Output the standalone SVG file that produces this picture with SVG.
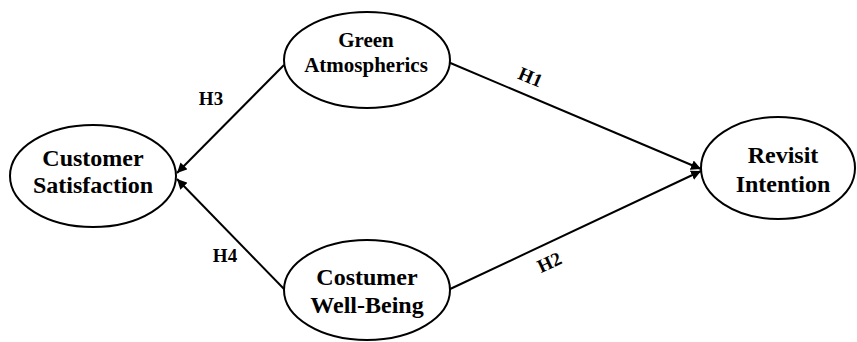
<svg xmlns="http://www.w3.org/2000/svg" width="857" height="342" viewBox="0 0 857 342">
<defs>
<style>
.node ellipse{fill:#fff;stroke:#000;stroke-width:2}
.t{font-family:"Liberation Serif","Times New Roman",serif;font-weight:bold;fill:#000;text-anchor:middle}
.big{font-size:24px}
.small{font-size:21px}
.lab{font-size:19px}
.edge{stroke:#000;stroke-width:2;fill:none;marker-end:url(#ah)}
</style>
<marker id="ah" viewBox="0 0 10 10" refX="10" refY="5" markerWidth="5" markerHeight="5" orient="auto" markerUnits="strokeWidth">
<path d="M0,0 L10,5 L0,10 z" fill="#000"/>
</marker>
</defs>
<rect width="857" height="342" fill="#fff"/>
<g id="connectors">
<line class="edge" x1="448" y1="62" x2="701" y2="169"/>
<line class="edge" x1="448" y1="290" x2="701" y2="171"/>
<line class="edge" x1="284" y1="65" x2="177" y2="173"/>
<line class="edge" x1="285" y1="290" x2="177" y2="179"/>
<text class="t lab" x="211" y="105">H3</text>
<text class="t lab" x="225" y="262">H4</text>
<text class="t lab" transform="translate(528,83) rotate(23)">H1</text>
<text class="t lab" transform="translate(552,268) rotate(-25)">H2</text>
</g>
<g id="customer-satisfaction" class="node">
<ellipse cx="93" cy="176" rx="83" ry="51"/>
<text class="t big" x="93" y="166">Customer</text>
<text class="t big" x="93" y="193">Satisfaction</text>
</g>
<g id="green-atmospherics" class="node">
<ellipse cx="367" cy="60" rx="83" ry="48"/>
<text class="t small" x="366" y="47">Green</text>
<text class="t small" x="366" y="72">Atmospherics</text>
</g>
<g id="costumer-well-being" class="node">
<ellipse cx="367" cy="290" rx="83" ry="50"/>
<text class="t big" x="367" y="285">Costumer</text>
<text class="t big" x="367" y="313">Well-Being</text>
</g>
<g id="revisit-intention" class="node">
<ellipse cx="778" cy="168" rx="77" ry="51"/>
<text class="t big" x="783" y="163">Revisit</text>
<text class="t big" x="783" y="192">Intention</text>
</g>
</svg>
